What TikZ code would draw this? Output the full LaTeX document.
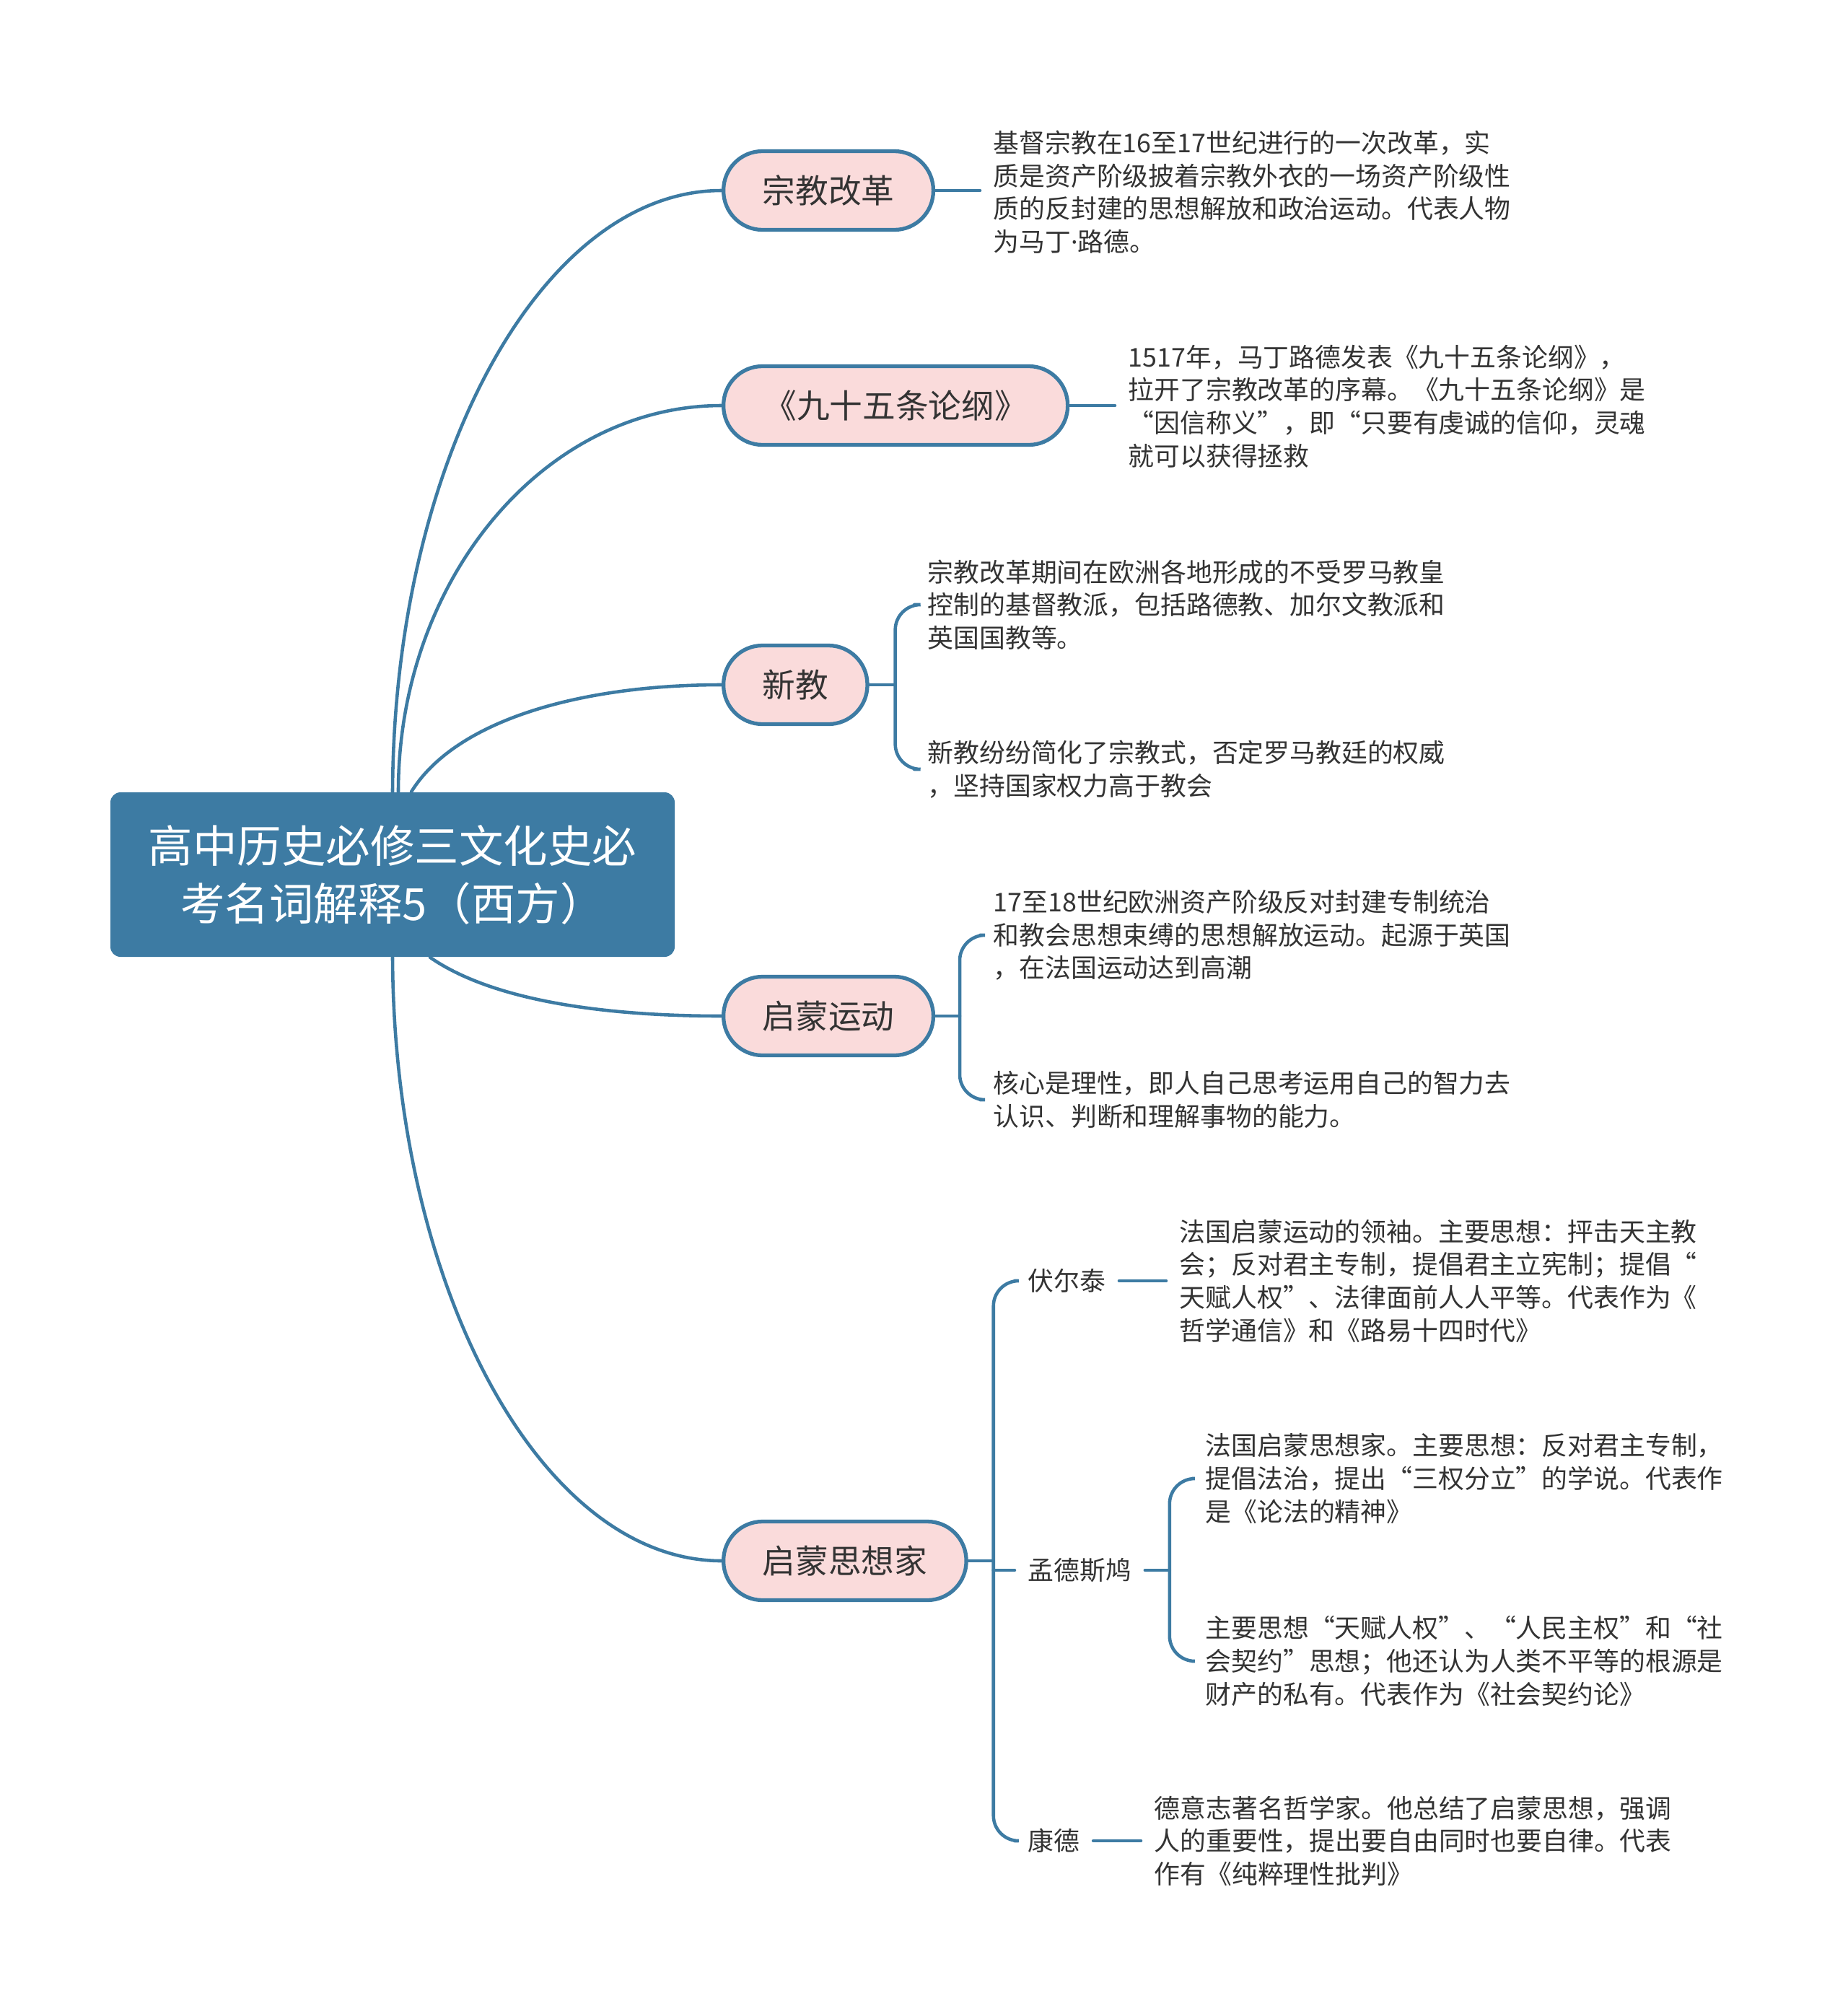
\documentclass[tikz,border=0pt]{standalone}
\usepackage{fontspec}
\setmainfont{Noto Sans CJK SC}
\newfontfamily\latinfont{Noto Sans}
\usepackage{tikz}
\usetikzlibrary{positioning,calc}
\definecolor{mmblue}{HTML}{3D7BA3}
\definecolor{mmpink}{HTML}{FADBDB}
\definecolor{mmtext}{HTML}{333333}

\begin{document}
\begin{tikzpicture}[line cap=round]
    \tikzset{root/.style={fill=mmblue,text=white,rounded corners=0.14cm,minimum width=7.82cm,minimum height=2.28cm,align=center,font=\fontsize{17.5}{22.8}\selectfont},
      topic/.style={draw=mmblue,line width=1.5pt,fill=mmpink,rounded corners=0.54cm,minimum height=1.09cm,inner xsep=0.54cm,anchor=west,text=mmtext,font=\fontsize{13}{15}\selectfont},
      leaf/.style={anchor=west,align=left,inner xsep=0.18cm,inner ysep=0pt,text=mmtext,font=\fontsize{10.2}{13}\selectfont},
      link/.style={draw=mmblue,line width=1.3pt}}
    \useasboundingbox (0,0) rectangle (25.6,-27.91);
    \node[root] (root) at (5.44,-12.12) {高中历史必修三文化史必\\考名词解释5（西方）};
    \node[topic] (reform) at (10.0,-2.64) {宗教改革};
    \node[topic,minimum width=4.77cm] (theses) at (10.0,-5.62) {《九十五条论纲》};
    \node[topic] (protest) at (10.0,-9.49) {新教};
    \node[topic] (enlight) at (10.0,-14.08) {启蒙运动};
    \node[topic] (thinkers) at (10.0,-21.63) {启蒙思想家};
    % leaves
    \node[leaf] (reformtxt) at (13.58,-2.66) {基督宗教在16至17世纪进行的一次改革，实\\质是资产阶级披着宗教外衣的一场资产阶级性\\质的反封建的思想解放和政治运动。代表人物\\为马丁{\latinfont ·}路德。};
    \node[leaf] (thesestxt) at (15.45,-5.63) {1517年，马丁路德发表《九十五条论纲》，\\拉开了宗教改革的序幕。《九十五条论纲》是\\“因信称义”，即“只要有虔诚的信仰，灵魂\\就可以获得拯救};
    \node[leaf] (protA) at (12.67,-8.38) {宗教改革期间在欧洲各地形成的不受罗马教皇\\控制的基督教派，包括路德教、加尔文教派和\\英国国教等。};
    \node[leaf] (protB) at (12.67,-10.66) {新教纷纷简化了宗教式，否定罗马教廷的权威\\，坚持国家权力高于教会};
    \node[leaf] (enlA) at (13.58,-12.96) {17至18世纪欧洲资产阶级反对封建专制统治\\和教会思想束缚的思想解放运动。起源于英国\\，在法国运动达到高潮};
    \node[leaf] (enlB) at (13.58,-15.24) {核心是理性，即人自己思考运用自己的智力去\\认识、判断和理解事物的能力。};
    \node[leaf] (volt) at (14.06,-17.75) {伏尔泰};
    \node[leaf] (mont) at (14.06,-21.76) {孟德斯鸠};
    \node[leaf] (kant) at (14.06,-25.51) {康德};
    \node[leaf] (volttxt) at (16.16,-17.75) {法国启蒙运动的领袖。主要思想：抨击天主教\\会；反对君主专制，提倡君主立宪制；提倡“\\天赋人权”、法律面前人人平等。代表作为《\\哲学通信》和《路易十四时代》};
    \node[leaf] (montA) at (16.52,-20.49) {法国启蒙思想家。主要思想：反对君主专制，\\提倡法治，提出“三权分立”的学说。代表作\\是《论法的精神》};
    \node[leaf] (montB) at (16.52,-23.02) {主要思想“天赋人权”、“人民主权”和“社\\会契约”思想；他还认为人类不平等的根源是\\财产的私有。代表作为《社会契约论》};
    \node[leaf] (kanttxt) at (15.81,-25.51) {德意志著名哲学家。他总结了启蒙思想，强调\\人的重要性，提出要自由同时也要自律。代表\\作有《纯粹理性批判》};
    % root branches
    \draw[link] (root.north) .. controls (5.46,-6.39) and (7.5,-2.64) .. (reform.west);
    \draw[link] ($(root.north)+(0.08,0)$) .. controls (5.52,-8.03) and (7.54,-5.62) .. (theses.west);
    \draw[link] ($(root.north)+(0.26,0)$) .. controls (6.3,-10.0) and (8.0,-9.49) .. (protest.west);
    \draw[link] ($(root.south)+(0.52,0)$) .. controls (6.8,-13.85) and (8.3,-14.08) .. (enlight.west);
    \draw[link] (root.south) .. controls (5.46,-17.86) and (7.5,-21.63) .. (thinkers.west);
    % topic to leaves
    \draw[link] (reform.east) -- (reform.east -| reformtxt.west);
    \draw[link] (theses.east) -- (theses.east -| thesestxt.west);
    \draw[link] (protest.east) -- ++(0.36,0) coordinate (protfork);
    \draw[link,rounded corners=0.35cm] (protA.west) -| (protfork) |- (protB.west);
    \draw[link] (enlight.east) -- ++(0.34,0) coordinate (enlfork);
    \draw[link,rounded corners=0.35cm] (enlA.west) -| (enlfork) |- (enlB.west);
    \draw[link] (thinkers.east) -- ++(0.35,0) coordinate (thinkfork);
    \draw[link,rounded corners=0.35cm] (volt.west) -| (thinkfork) |- (kant.west);
    \draw[link] (mont.west) -- (mont.west -| thinkfork);
    \draw[link] (volt.east) -- (volttxt.west);
    \draw[link] (mont.east) -- ++(0.34,0) coordinate (montfork);
    \draw[link,rounded corners=0.35cm] (montA.west) -| (montfork) |- (montB.west);
    \draw[link] (kant.east) -- (kanttxt.west);
  \end{tikzpicture}
\end{document}
